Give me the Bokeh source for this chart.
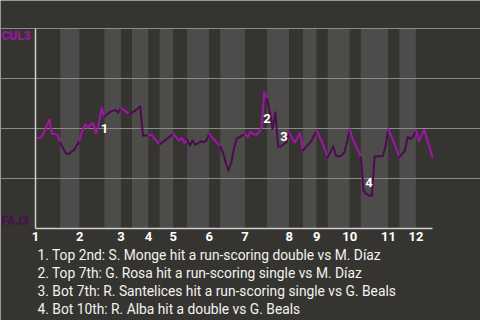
from bokeh.plotting import figure
from bokeh.models import FixedTicker, Label, Range1d
from bokeh.embed import file_html
from bokeh.resources import INLINE

BG = "#363430"
BAND = "#4d4c4a"
TOP_C = "#a114a8"
BOT_C = "#4b0d4f"

# innings (x = play number)
inning_labels = ["1", "2", "3", "4", "5", "6", "7", "8", "9", "10", "11", "12"]
inning_starts = [0, 16, 31, 41, 50, 63, 76, 92, 102, 114, 128, 138]
half_bounds = [0, 9, 16, 25, 31, 35, 41, 45, 50, 55, 63, 67, 76, 84, 92, 97,
               102, 106, 114, 118, 128, 132, 138, 144]

# CUL3 win probability by play
play = [0, 2, 3, 5, 6, 8, 9, 11, 12, 14, 16, 17, 18, 19, 20, 21, 22, 23, 24, 25,
        27, 29, 30, 31, 33, 34, 36, 38, 39, 41, 42, 45, 50, 52, 53, 54, 55, 56, 57, 58,
        60, 61, 62, 63, 65, 67, 68, 69, 70, 71, 72, 73, 74, 76, 77, 78, 79, 80, 81, 82,
        83, 84, 85, 86, 87, 88, 89, 91, 92, 94, 96, 97, 100, 102, 104, 106, 108, 109, 110, 111,
        112, 113, 114, 115, 117, 118, 119, 120, 121, 122, 123, 126, 127, 128, 130, 132, 134, 135, 136, 137,
        138, 139, 141, 144]
wp = [0.455, 0.453, 0.48, 0.543, 0.475, 0.468, 0.43, 0.375, 0.373, 0.393, 0.44, 0.49, 0.52, 0.505, 0.52, 0.525, 0.475, 0.525, 0.60, 0.56,
      0.583, 0.593, 0.58, 0.603, 0.583, 0.57, 0.588, 0.61, 0.465, 0.465, 0.47, 0.42, 0.473, 0.44, 0.452, 0.429, 0.444, 0.415, 0.44, 0.419,
      0.435, 0.432, 0.44, 0.474, 0.44, 0.41, 0.38, 0.33, 0.29, 0.33, 0.40, 0.45, 0.457, 0.473, 0.457, 0.485, 0.473, 0.468, 0.48, 0.507,
      0.68, 0.65, 0.58, 0.50, 0.58, 0.41, 0.41, 0.43, 0.48, 0.43, 0.477, 0.39, 0.437, 0.49, 0.43, 0.357, 0.412, 0.365, 0.36, 0.365,
      0.38, 0.43, 0.495, 0.45, 0.39, 0.357, 0.19, 0.173, 0.165, 0.165, 0.36, 0.362, 0.415, 0.495, 0.43, 0.357, 0.39, 0.457, 0.448, 0.46,
      0.49, 0.437, 0.493, 0.357]

team_top = "CUL3"
team_bottom = "FAJ3"

note_marks = ["1", "2", "3", "4"]
note_play = [25, 84, 89, 121]
notes = [
    "1. Top 2nd: S. Monge hit a run-scoring double vs M. Díaz",
    "2. Top 7th: G. Rosa hit a run-scoring single vs M. Díaz",
    "3. Bot 7th: R. Santelices hit a run-scoring single vs G. Beals",
    "4. Bot 10th: R. Alba hit a double vs G. Beals",
]

FONT = "Roboto"

# frame fills the canvas; plot region (plays 0-144, prob 0-1) sits at px 35..432 x 28..228
PX_PER_PLAY = 397 / 144
p = figure(width=480, height=320, output_backend="svg", toolbar_location=None,
           x_range=Range1d(-35 / PX_PER_PLAY, 144 + 48 / PX_PER_PLAY),
           y_range=Range1d(-92 / 200, 1 + 28 / 200),
           min_border=0)
p.background_fill_color = BG
p.border_fill_color = BG
p.outline_line_color = None

# half-inning bands
lefts = half_bounds[:-1]
rights = half_bounds[1:]
band_colors = [BG if i % 2 == 0 else BAND for i in range(len(lefts))]
bands = p.quad(left=lefts, right=rights, bottom=0, top=1, fill_color=band_colors, line_color=None)
bands.level = "image"

# grid
p.xgrid.grid_line_color = None
p.ygrid.ticker = FixedTicker(ticks=[0.25, 0.5, 0.75, 1.0])
p.ygrid.bounds = (0, 144)
p.ygrid.grid_line_color = "#8a8a88"
p.ygrid.grid_line_width = 1

# axes
p.xaxis.fixed_location = 0
p.xaxis.bounds = (0, 144)
p.xaxis.ticker = FixedTicker(ticks=inning_starts)
p.xaxis.major_label_overrides = {s: l for s, l in zip(inning_starts, inning_labels)}
p.xaxis.major_label_text_align = "left"
p.xaxis.major_label_text_color = "#ffffff"
p.xaxis.major_label_text_font = FONT
p.xaxis.major_label_text_font_style = "bold"
p.xaxis.major_label_text_font_size = "13px"
p.xaxis.major_label_standoff = -3
p.xaxis.major_tick_line_color = None
p.xaxis.minor_tick_line_color = None
p.xaxis.axis_line_color = "#cfcfcf"
p.xaxis.axis_line_width = 1.5

p.yaxis.fixed_location = 0
p.yaxis.bounds = (0, 1)
p.yaxis.ticker = FixedTicker(ticks=[])
p.yaxis.major_label_text_font_size = "0px"
p.yaxis.major_tick_line_color = None
p.yaxis.minor_tick_line_color = None
p.yaxis.axis_line_color = "#cfcfcf"
p.yaxis.axis_line_width = 1.5

# line, coloured by half-inning
x0, y0, x1, y1, cols = [], [], [], [], []
for a, ya, b, yb in zip(play[:-1], wp[:-1], play[1:], wp[1:]):
    mid = (a + b) / 2
    k = max(i for i in range(len(half_bounds) - 1) if half_bounds[i] <= mid)
    x0.append(a); y0.append(ya); x1.append(b); y1.append(yb)
    cols.append(TOP_C if k % 2 == 0 else BOT_C)
p.segment(x0=x0, y0=y0, x1=x1, y1=y1, line_color=cols, line_width=2, line_cap="round")

# event markers
note_dx = [0, 0, 3, 0]
note_dy = [-12, -20, 10, 13]
for m, pl, dx, dy in zip(note_marks, note_play, note_dx, note_dy):
    yv = wp[play.index(pl)]
    p.add_layout(Label(x=pl, y=yv, text=m, x_offset=dx, y_offset=dy, text_align="center",
                       text_baseline="middle", text_color="#ffffff", text_font=FONT,
                       text_font_style="bold", text_font_size="13px"))

# team labels
p.add_layout(Label(x=-34 / PX_PER_PLAY, y=0.965, text=team_top, text_align="left", text_baseline="middle",
                   text_color=TOP_C, text_font=FONT, text_font_style="bold", text_font_size="12px"))
p.add_layout(Label(x=-34 / PX_PER_PLAY, y=0.04, text=team_bottom, text_align="left", text_baseline="middle",
                   text_color=BOT_C, text_font=FONT, text_font_style="bold", text_font_size="12px"))

# notes
for i, t in enumerate(notes):
    p.add_layout(Label(x=2 / PX_PER_PLAY, y=-0.13 - 0.09 * i, text=t, text_align="left", text_baseline="middle",
                       text_color="#f2f2f2", text_font=FONT, text_font_size="13.8px"))

open("out.html", "w").write(file_html(p, INLINE))
